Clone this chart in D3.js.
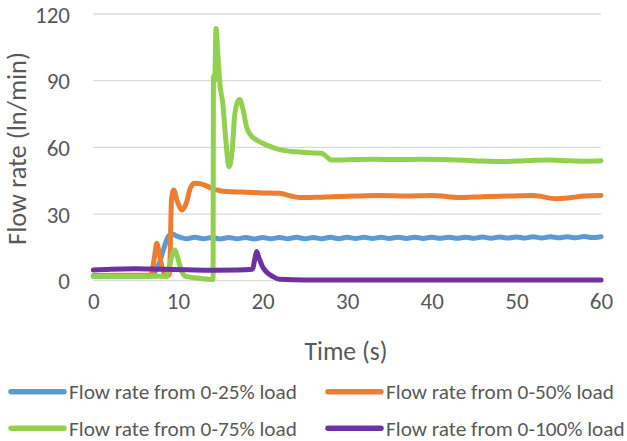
<!DOCTYPE html>
<html><head><meta charset="utf-8">
<script src="https://cdn.jsdelivr.net/npm/d3@7"></script>
<style>body{margin:0;background:#fff}svg{display:block}</style>
</head><body>
<svg id="c" width="627" height="441"></svg>
<script>
const seriesNames = ["Flow rate from 0-25% load","Flow rate from 0-50% load","Flow rate from 0-75% load","Flow rate from 0-100% load"];
const colors = ["#5B9BD5","#ED7D31","#92D050","#7030A0"];
const xTicks = [0,10,20,30,40,50,60];
const yTicks = [0,30,60,90,120];

const blue = [[0,2],[3,2],[6.7,2],[7.3,4],[7.8,8],[8.3,14],[8.8,19.5],[9.3,21],[9.8,20.2],[10.5,19.3],[11,18.9],[12,19.5],[13,18.9],[14,19.4],[15,18.8],[16,19.4],[17,18.9],[18,19.4],[19,18.8],[20,19.4],[21,18.9],[22,19.4],[23,18.9],[24,19.5],[25,18.9],[26,19.4],[27,18.9],[28,19.5],[29,18.9],[30,19.5],[31,19.0],[32,19.5],[33,19.0],[34,19.5],[35,19.0],[36,19.6],[37,19.0],[38,19.6],[39,19.0],[40,19.6],[41,19.1],[42,19.6],[43,19.1],[44,19.6],[45,19.1],[46,19.7],[47,19.1],[48,19.7],[49,19.2],[50,19.7],[51,19.2],[52,19.8],[53,19.2],[54,19.8],[55,19.3],[56,19.8],[57,19.3],[58,19.9],[59,19.4],[60,19.8]];
const orange = [[0,2.3],[3,2.5],[6.8,2.5],[7.2,10],[7.5,16.8],[7.8,12],[8.2,5],[8.6,1.8],[9.0,3],[9.25,37],[9.5,40.8],[9.9,36],[10.5,31.8],[11.0,35],[11.5,42],[12.0,43.8],[13,43.2],[14,41.6],[15,40.5],[16,40.1],[18,39.8],[20,39.5],[22,39.3],[23.6,37.9],[24.4,37.4],[26,37.5],[28.3,37.8],[31,38.1],[34,38.3],[37,38.1],[40,38.3],[43.3,37.4],[46,37.8],[49,38.1],[52,38.3],[54.7,36.9],[56.5,37.4],[58,38.1],[60,38.3]];
const green = [[0,2],[5,2],[8.6,2],[9.0,7],[9.6,13.8],[10.0,10],[10.4,4.5],[10.8,2.2],[12,1.3],[13,0.9],[14.15,0.5],[14.2,92],[14.35,90],[14.5,113.5],[14.75,100],[15.0,87],[15.3,80],[15.6,66],[16.05,51.3],[16.4,58],[16.7,74],[17.0,80],[17.3,81.5],[17.7,77],[18.1,69.3],[18.6,65.5],[19.3,63.3],[20.5,61],[22,59],[24,58],[26,57.5],[27,57.3],[27.5,56],[28.1,54.3],[30,54.4],[33,54.6],[36,54.5],[39,54.6],[42,54.4],[45,54.0],[48.4,53.6],[51,54.0],[54,54.3],[56,54.0],[58,53.8],[60,54.0]];
const purple = [[0,4.8],[2,5.2],[5,5.4],[8,5.1],[11,4.9],[14,4.7],[17,4.8],[18.8,5.2],[19.1,10],[19.3,13.1],[19.6,10],[20.0,6.3],[20.5,3.8],[21.25,1.8],[22,0.6],[25,0.3],[30,0.3],[40,0.3],[50,0.3],[60,0.3]];
const allSeries = [blue, orange, green, purple];

const svg = d3.select("#c");
const font = "Carlito, Calibri, Lato, 'Open Sans', sans-serif";
const x = d3.scaleLinear().domain([0,60]).range([93.3,601]);
const y = d3.scaleLinear().domain([0,120]).range([280.7,14]);

function fit(sel, target, start){
  sel.attr("font-size", start);
  const w = sel.node().getComputedTextLength();
  const s = start * target / w;
  sel.attr("font-size", s);
  return s;
}

svg.append("g").selectAll("line").data(yTicks).join("line")
  .attr("x1", x(0)).attr("x2", x(60))
  .attr("y1", d=>y(d)).attr("y2", d=>y(d))
  .attr("stroke","#D9D9D9").attr("stroke-width",1.3);

const probe = svg.append("text").attr("font-family",font).text("120");
const tickSize = fit(probe, 35, 20);
probe.remove();

const yAxis = d3.axisLeft(y).tickValues(yTicks).tickSize(0).tickPadding(0);
const gy = svg.append("g").attr("transform","translate(70,0)").call(yAxis);
gy.select(".domain").remove();
gy.selectAll("text").attr("font-family",font).attr("font-size",tickSize).attr("fill","#595959").attr("dy","0.35em");

const xAxis = d3.axisBottom(x).tickValues(xTicks).tickSize(0).tickPadding(0);
const gx = svg.append("g").attr("transform","translate(0,293)").call(xAxis);
gx.select(".domain").remove();
gx.selectAll("text").attr("font-family",font).attr("font-size",tickSize).attr("fill","#595959").attr("dy","0.71em");

const yt = svg.append("text").attr("font-family",font).attr("fill","#595959")
  .attr("text-anchor","middle").attr("transform","translate(26,148.5) rotate(-90)")
  .text("Flow rate (ln/min)");
fit(yt, 193, 20);
const xt = svg.append("text").attr("font-family",font).attr("fill","#595959")
  .attr("text-anchor","middle").attr("x",346).attr("y",360)
  .text("Time (s)");
fit(xt, 83, 20);

const line = d3.line().x(d=>x(d[0])).y(d=>y(d[1])).curve(d3.curveMonotoneX);
svg.append("g").selectAll("path").data(allSeries).join("path")
  .attr("d", line).attr("fill","none")
  .attr("stroke",(d,i)=>colors[i]).attr("stroke-width",5)
  .attr("stroke-linejoin","round").attr("stroke-linecap","round");

const legPos = [[10,391.7],[327,391.7],[10,428.3],[327,428.3]];
const lg = svg.append("g").selectAll("g").data(seriesNames).join("g")
  .attr("transform",(d,i)=>`translate(${legPos[i][0]},${legPos[i][1]})`);
lg.append("line").attr("x1",1).attr("x2",54).attr("y1",0).attr("y2",0)
  .attr("stroke",(d,i)=>colors[i]).attr("stroke-width",5.5).attr("stroke-linecap","round");
const lt = lg.append("text").attr("x",59).attr("dy","0.35em").attr("font-family",font).attr("fill","#595959").text(d=>d);
const legSize = fit(d3.select(lt.nodes()[0]), 228, 18);
lt.attr("font-size", legSize);
</script>
</body></html>
